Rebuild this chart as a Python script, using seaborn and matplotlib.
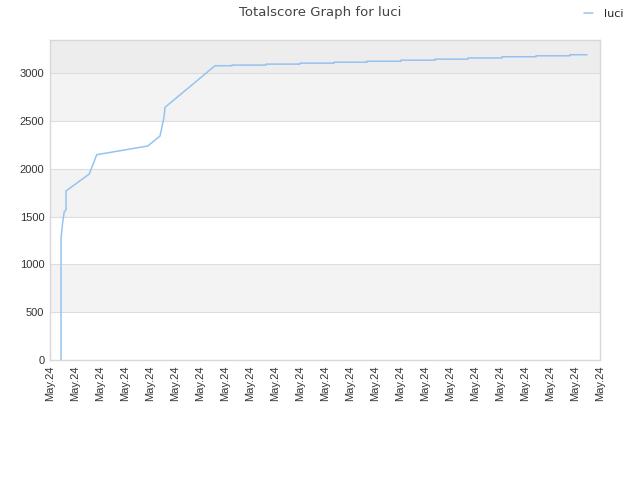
import matplotlib
matplotlib.use("Agg")
import matplotlib.pyplot as plt
import seaborn as sns
import pandas as pd

# time position (in tick units, 0..22) and total score
time_pos = [0.44, 0.44, 0.51, 0.57, 0.64, 0.64, 1.57, 1.87, 3.91, 4.40, 4.56, 4.60, 6.60,
            7.28, 7.28, 8.64, 8.64, 10.00, 10.00, 11.36, 11.36, 12.68, 12.68,
            14.04, 14.04, 15.40, 15.40, 16.72, 16.72, 18.08, 18.08, 19.44, 19.44,
            20.80, 20.80, 21.48]
score = [0, 1272, 1446, 1550, 1568, 1767, 1944, 2146, 2237, 2341, 2537, 2641, 3076,
         3076, 3083, 3083, 3093, 3093, 3103, 3103, 3113, 3113, 3123, 3123, 3134,
         3134, 3145, 3145, 3157, 3157, 3170, 3170, 3180, 3180, 3191, 3191]

tick_labels = ["May.24"] * 23
y_ticks = [0, 500, 1000, 1500, 2000, 2500, 3000]

df = pd.DataFrame({"t": time_pos, "score": score, "name": "luci"})

sns.set_theme(style="white")
plt.rcParams["font.family"] = ["DejaVu Sans"]

fig = plt.figure(figsize=(6.4, 4.8), dpi=100)
ax = fig.add_axes([50 / 640, 1 - 360 / 480, 550 / 640, 320 / 480])

# background bands
ymax = 3345
band_colors = ["#ffffff", "#f3f3f3"]
for i, y0 in enumerate(y_ticks[:-1]):
    ax.axhspan(y0, y0 + 500, color=band_colors[i % 2], zorder=0, lw=0)
ax.axhspan(3000, ymax, color="#ededed", zorder=0, lw=0)

sns.lineplot(data=df, x="t", y="score", hue="name", palette=["#95c3f0"],
             sort=False, estimator=None, linewidth=1.1, ax=ax, legend=True)

ax.set_xlim(0, 22)
ax.set_ylim(0, ymax)
ax.set_xticks(range(23))
ax.set_xticklabels(tick_labels, rotation=90, fontsize=8, color="#333333",
                   family="Liberation Sans")
ax.set_yticks(y_ticks)
ax.set_yticklabels([str(v) for v in y_ticks], fontsize=8, color="#333333",
                   family="Liberation Sans")
ax.tick_params(axis="both", length=0, pad=4)
ax.set_xlabel("")
ax.set_ylabel("")
for y in y_ticks[1:]:
    ax.axhline(y, color="#dddddd", lw=0.8, zorder=1)
for s in ax.spines.values():
    s.set_color("#d8d8d8")
    s.set_linewidth(1)

fig.suptitle("Totalscore Graph for luci", x=0.5, y=0.988, fontsize=9.5, color="#444444")

handles, labels = ax.get_legend_handles_labels()
ax.legend(handles, labels, loc="upper right", bbox_to_anchor=(0.99, 1.003),
          bbox_transform=fig.transFigure, frameon=False, fontsize=8,
          handlelength=0.8, handletextpad=1.0)

fig.savefig("out.png", dpi=100)
